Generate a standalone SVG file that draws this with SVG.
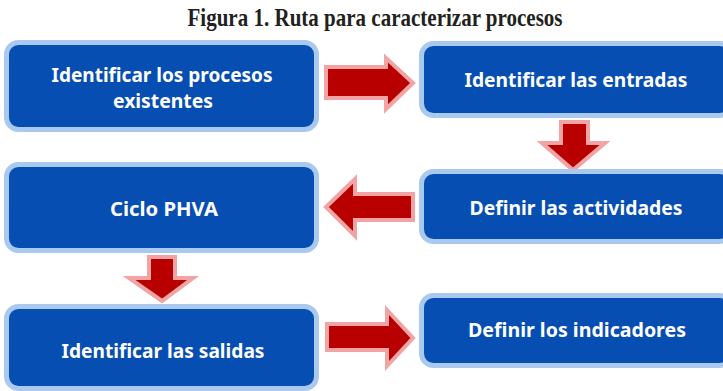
<svg xmlns="http://www.w3.org/2000/svg" width="723" height="391" viewBox="0 0 723 391">
<style>
.box{fill:#064EB2;stroke:#A9C9EE;stroke-width:5}
.lbl{fill:#FFFFFF;font-family:"Noto Sans","Open Sans",sans-serif;font-weight:bold;font-size:19.5px;text-anchor:middle}
.arr{fill:#B80000;stroke:#F2A3A3;stroke-width:4;stroke-linejoin:miter}
.title{fill:#231F20;font-family:"Liberation Serif",serif;font-weight:bold;font-size:25px;text-anchor:middle}
</style>
<rect width="723" height="391" fill="#FFFFFF"/>
<text class="title" x="375" y="26" textLength="375" lengthAdjust="spacingAndGlyphs">Figura 1. Ruta para caracterizar procesos</text>
<g id="connectors">
<path class="arr" d="M326,67 H386 V58 L413,83 L386,109 V98 H326 Z"/>
<path class="arr" d="M561,122 H588 V143 H605 L573,170 L542,143 H561 Z"/>
<path class="arr" d="M326,207 L355,179 V194 H413 V220 H355 V236 Z"/>
<path class="arr" d="M149,257 H175 V278 H193 L162,301 L129,278 H149 Z"/>
<path class="arr" d="M327,324 H387 V310 L413,338 L387,366 V350 H327 Z"/>
</g>
<g id="n1">
<rect class="box" x="6.5" y="42.5" width="310" height="87" rx="12"/>
<text class="lbl" x="162" y="82" textLength="221" lengthAdjust="spacingAndGlyphs">Identificar los procesos</text>
<text class="lbl" x="163" y="108" textLength="100" lengthAdjust="spacingAndGlyphs">existentes</text>
</g>
<g id="n2">
<rect class="box" x="421.5" y="43.5" width="310" height="72" rx="12"/>
<text class="lbl" x="576" y="87" textLength="223" lengthAdjust="spacingAndGlyphs">Identificar las entradas</text>
</g>
<g id="n3">
<rect class="box" x="421.5" y="171.5" width="310" height="70" rx="12"/>
<text class="lbl" x="576" y="215" textLength="213" lengthAdjust="spacingAndGlyphs">Definir las actividades</text>
</g>
<g id="n4">
<rect class="box" x="6.5" y="164.5" width="310" height="86" rx="12"/>
<text class="lbl" x="164" y="216" textLength="108" lengthAdjust="spacingAndGlyphs">Ciclo PHVA</text>
</g>
<g id="n5">
<rect class="box" x="6.5" y="306.5" width="310" height="82" rx="12"/>
<text class="lbl" x="163" y="358" textLength="203" lengthAdjust="spacingAndGlyphs">Identificar las salidas</text>
</g>
<g id="n6">
<rect class="box" x="421.5" y="295.5" width="310" height="70" rx="12"/>
<text class="lbl" x="577" y="337" textLength="218" lengthAdjust="spacingAndGlyphs">Definir los indicadores</text>
</g>
</svg>
